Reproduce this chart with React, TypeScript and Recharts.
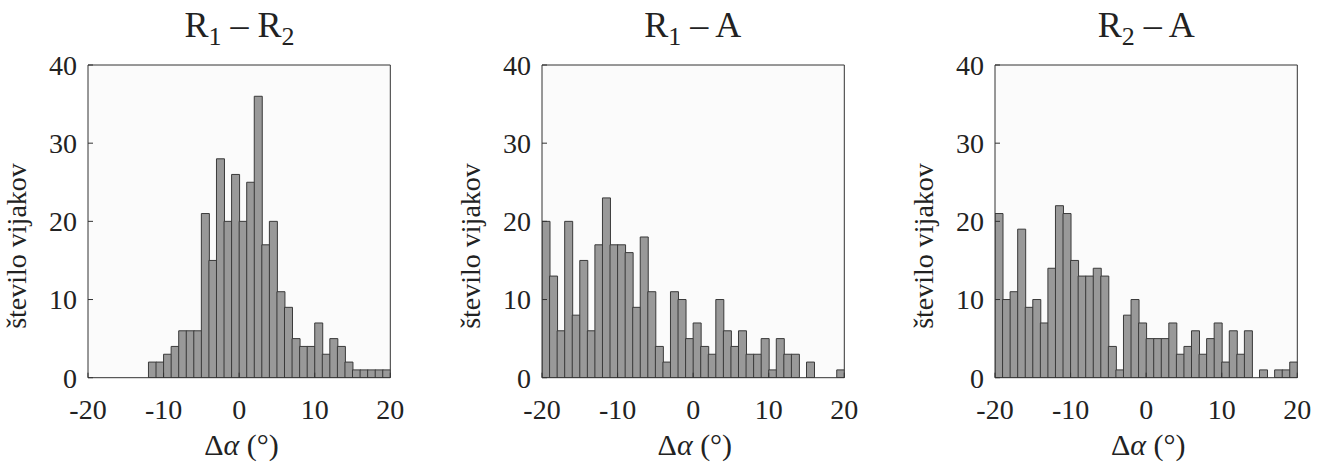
import { BarChart, Bar, XAxis, YAxis, CartesianGrid } from "recharts";

// histogram bins, width 1°, edges on whole degrees
const binCenters = [
  -19.5, -18.5, -17.5, -16.5, -15.5, -14.5, -13.5, -12.5, -11.5, -10.5,
  -9.5, -8.5, -7.5, -6.5, -5.5, -4.5, -3.5, -2.5, -1.5, -0.5,
  0.5, 1.5, 2.5, 3.5, 4.5, 5.5, 6.5, 7.5, 8.5, 9.5,
  10.5, 11.5, 12.5, 13.5, 14.5, 15.5, 16.5, 17.5, 18.5, 19.5,
];

const r1r2Counts = [
  0, 0, 0, 0, 0, 0, 0, 0, 2, 2,
  3, 4, 6, 6, 6, 21, 15, 28, 20, 26,
  20, 25, 36, 17, 20, 11, 9, 5, 4, 4,
  7, 3, 5, 4, 2, 1, 1, 1, 1, 1,
];

const r1aCounts = [
  20, 13, 6, 20, 8, 15, 6, 17, 23, 17,
  17, 16, 9, 18, 11, 4, 2, 11, 10, 5,
  7, 4, 3, 10, 6, 4, 6, 3, 3, 5,
  1, 5, 3, 3, 0, 2, 0, 0, 0, 1,
];

const r2aCounts = [
  21, 10, 11, 19, 9, 10, 7, 14, 22, 21,
  15, 13, 13, 14, 13, 4, 1, 8, 10, 7,
  5, 5, 5, 7, 3, 4, 6, 3, 5, 7,
  2, 6, 3, 6, 0, 1, 0, 1, 1, 2,
];

const xTicks = [-20, -10, 0, 10, 20];
const yTicks = [0, 10, 20, 30, 40];

const FONT = "'Liberation Serif', 'Times New Roman', serif";
const INK = "#222";

const CHART_W = 420;
const CHART_H = 462;
const Y_AXIS_W = 88;
const PLOT_W = 302.3;

function Histogram({ counts, left }: { counts: number[]; left: number }) {
  const data = binCenters.map((bin, i) => ({ bin, count: counts[i] }));
  const tickStyle = { fontSize: 28, fill: INK, fontFamily: FONT };
  return (
    <div style={{ position: "absolute", left, top: 0 }}>
      <BarChart
        width={CHART_W}
        height={CHART_H}
        data={data}
        barCategoryGap={0}
        barGap={0}
        margin={{ top: 65, right: CHART_W - Y_AXIS_W - PLOT_W, bottom: 34.3, left: 0 }}
        style={{ fontFamily: FONT }}
      >
        <CartesianGrid horizontal={false} vertical={false} fill="#fbfbfb" />
        <XAxis
          type="number"
          dataKey="bin"
          domain={[-20, 20]}
          allowDataOverflow
          ticks={xTicks}
          interval={0}
          height={50}
          tickSize={-5}
          tickMargin={26}
          stroke="#333"
          tick={tickStyle}
        />
        <XAxis
          xAxisId="top"
          orientation="top"
          mirror
          type="number"
          domain={[-20, 20]}
          allowDataOverflow
          ticks={[-10, 0, 10]}
          tick={false}
          tickSize={5}
          stroke="#333"
        />
        <YAxis
          type="number"
          domain={[0, 40]}
          allowDataOverflow
          ticks={yTicks}
          interval={0}
          width={Y_AXIS_W}
          tickSize={-5}
          tickMargin={16}
          stroke="#333"
          tick={tickStyle}
        />
        <YAxis
          yAxisId="right"
          orientation="right"
          mirror
          type="number"
          domain={[0, 40]}
          allowDataOverflow
          ticks={[10, 20, 30]}
          tick={false}
          tickSize={5}
          stroke="#333"
        />
        <Bar
          dataKey="count"
          fill="#999999"
          stroke="#3a3a3a"
          strokeWidth={1}
          isAnimationActive={false}
        />
      </BarChart>
    </div>
  );
}

const plotLefts = [88.3, 541.7, 995];
const panels = [
  { counts: r1r2Counts, a: "R", aSub: "1", b: "R", bSub: "2" },
  { counts: r1aCounts, a: "R", aSub: "1", b: "A", bSub: "" },
  { counts: r2aCounts, a: "R", aSub: "2", b: "A", bSub: "" },
];

export default function App() {
  return (
    <div
      style={{
        position: "absolute",
        left: 0,
        top: 0,
        width: 1326,
        height: 462,
        background: "#fff",
        overflow: "hidden",
      }}
    >
      {panels.map((p, i) => (
        <Histogram key={i} counts={p.counts} left={plotLefts[i] - Y_AXIS_W} />
      ))}
      <svg
        width={1326}
        height={462}
        style={{ position: "absolute", left: 0, top: 0, pointerEvents: "none" }}
        fontFamily={FONT}
        fill={INK}
      >
        {panels.map((p, i) => {
          const cx = plotLefts[i] + PLOT_W / 2;
          return (
            <g key={i}>
              <text x={cx} y={36.5} textAnchor="middle" fontSize={36}>
                {p.a}
                <tspan dy={8} fontSize={26}>{p.aSub}</tspan>
                <tspan dy={-8}>{" \u2013 " + p.b}</tspan>
                {p.bSub ? <tspan dy={8} fontSize={26}>{p.bSub}</tspan> : null}
              </text>
              <text
                transform={`translate(${plotLefts[i] - 62}, 246) rotate(-90)`}
                textAnchor="middle"
                fontSize={28}
              >
                število vijakov
              </text>
              <text x={cx + 2} y={455} textAnchor="middle" fontSize={30}>
                {"\u0394"}
                <tspan fontStyle="italic">{"\u03b1"}</tspan>
                {" (\u00b0)"}
              </text>
            </g>
          );
        })}
      </svg>
    </div>
  );
}
